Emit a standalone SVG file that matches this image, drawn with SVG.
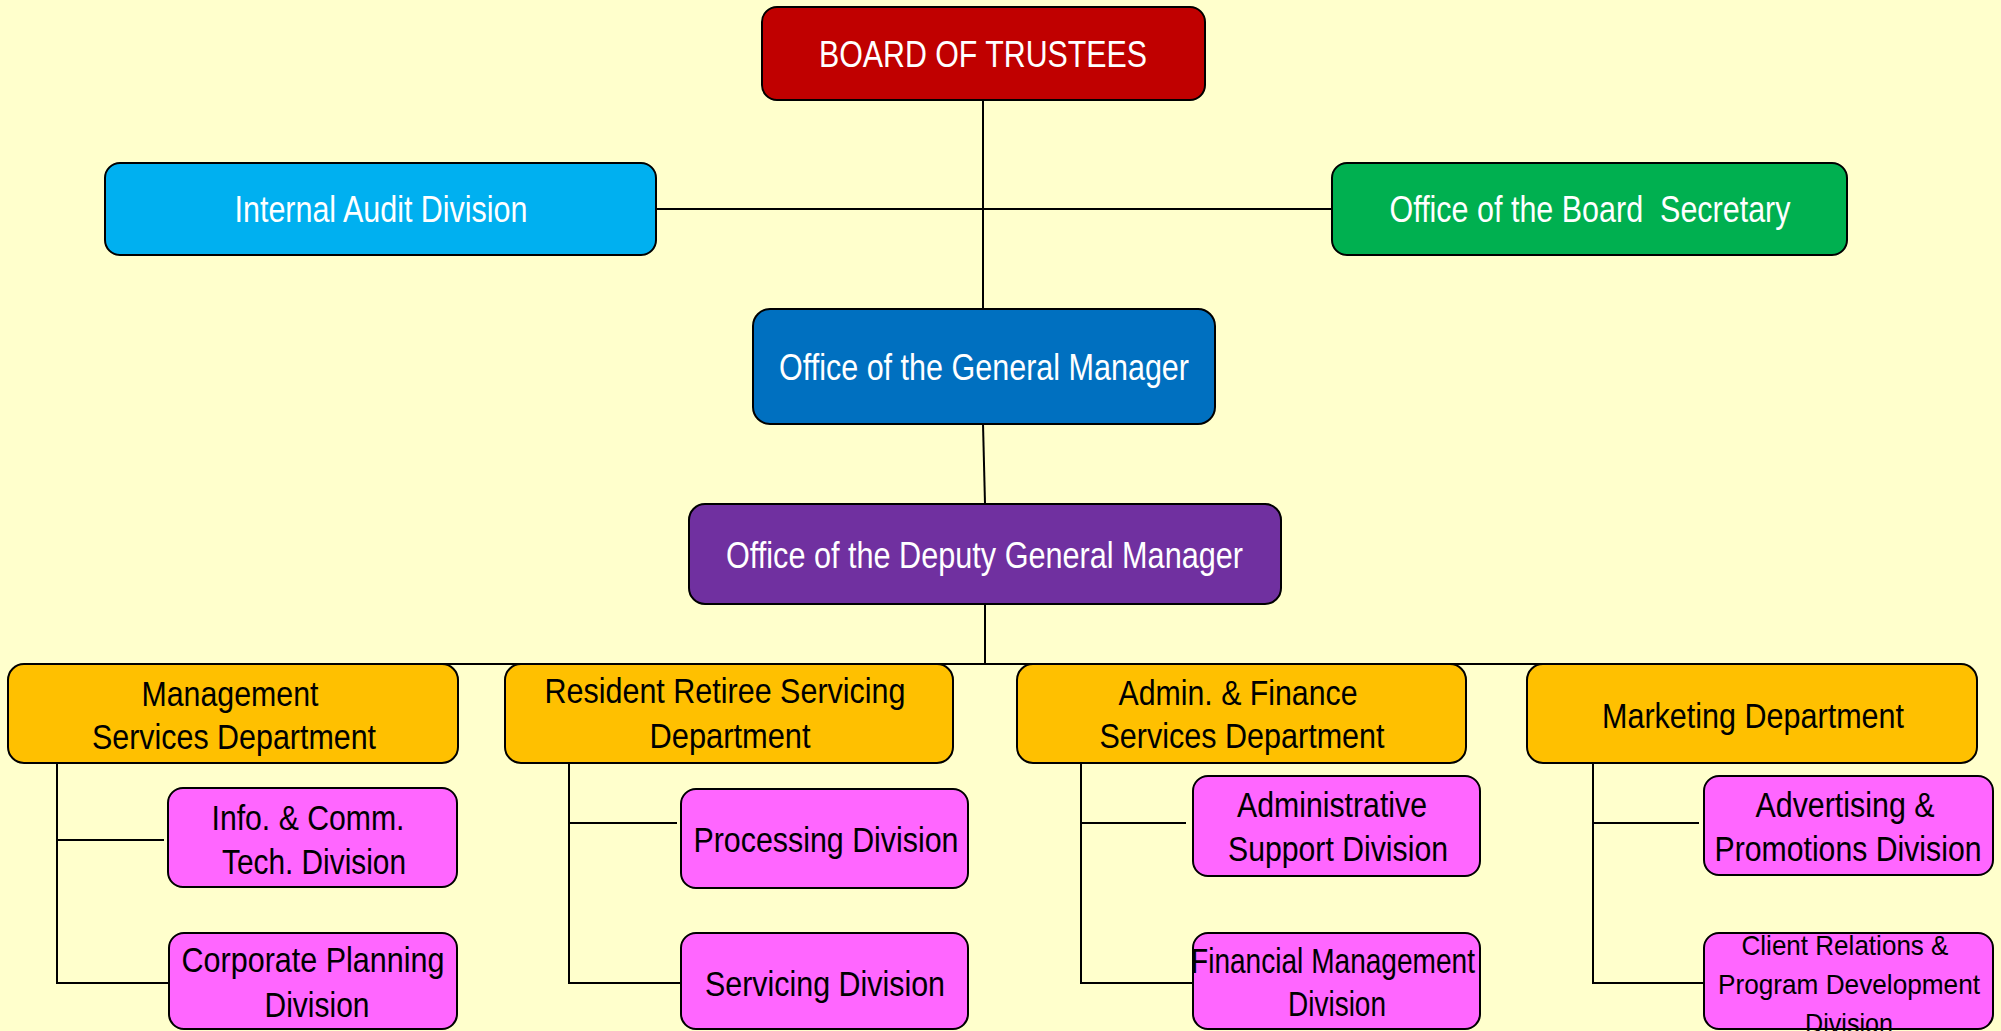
<svg xmlns="http://www.w3.org/2000/svg" width="2001" height="1031" viewBox="0 0 2001 1031">
<style>
.box{stroke:#000;stroke-width:2}
.conn line{stroke:#000;stroke-width:2;fill:none}
text{font-family:"Liberation Sans",Arial,sans-serif;text-anchor:middle}
.w{fill:#fff;font-size:36px}
.d{fill:#000;font-size:35px}
.s{fill:#000;font-size:28px}
</style>
<rect x="0" y="0" width="2001" height="1031" fill="#FFFFCC"/>
<g id="connectors" class="conn">
<line x1="983" y1="100" x2="983" y2="309"/>
<line x1="656" y1="209" x2="1332" y2="209"/>
<line x1="983" y1="424" x2="985" y2="504"/>
<line x1="985" y1="604" x2="985" y2="664"/>
<line x1="233" y1="664" x2="1752" y2="664"/>
<line x1="57" y1="760" x2="57" y2="984"/>
<line x1="57" y1="840" x2="164" y2="840"/>
<line x1="57" y1="983" x2="169" y2="983"/>
<line x1="569" y1="760" x2="569" y2="984"/>
<line x1="569" y1="823" x2="677" y2="823"/>
<line x1="569" y1="983" x2="681" y2="983"/>
<line x1="1081" y1="760" x2="1081" y2="984"/>
<line x1="1081" y1="823" x2="1186" y2="823"/>
<line x1="1081" y1="983" x2="1193" y2="983"/>
<line x1="1593" y1="760" x2="1593" y2="984"/>
<line x1="1593" y1="823" x2="1699" y2="823"/>
<line x1="1593" y1="983" x2="1704" y2="983"/>
</g>
<g id="board">
<rect class="box" x="762" y="7" width="443" height="93" rx="15" fill="#C00000"/>
<text class="w" x="983" y="67" textLength="328" lengthAdjust="spacingAndGlyphs">BOARD OF TRUSTEES</text>
</g>
<g id="internal-audit">
<rect class="box" x="105" y="163" width="551" height="92" rx="15" fill="#00B0F0"/>
<text class="w" x="381" y="222" textLength="293" lengthAdjust="spacingAndGlyphs">Internal Audit Division</text>
</g>
<g id="board-secretary">
<rect class="box" x="1332" y="163" width="515" height="92" rx="15" fill="#00B050"/>
<text class="w" x="1590" y="222" textLength="401" lengthAdjust="spacingAndGlyphs" xml:space="preserve">Office of the Board  Secretary</text>
</g>
<g id="general-manager">
<rect class="box" x="753" y="309" width="462" height="115" rx="17" fill="#0070C0"/>
<text class="w" x="984" y="380" textLength="410" lengthAdjust="spacingAndGlyphs">Office of the General Manager</text>
</g>
<g id="deputy-general-manager">
<rect class="box" x="689" y="504" width="592" height="100" rx="16" fill="#7030A0"/>
<text class="w" x="984.5" y="568" textLength="517" lengthAdjust="spacingAndGlyphs">Office of the Deputy General Manager</text>
</g>
<g id="management-services">
<rect class="box" x="8" y="664" width="450" height="99" rx="16" fill="#FFC000"/>
<text class="d" x="230" y="706" textLength="177" lengthAdjust="spacingAndGlyphs">Management</text>
<text class="d" x="234" y="749" textLength="284" lengthAdjust="spacingAndGlyphs">Services Department</text>
</g>
<g id="resident-retiree">
<rect class="box" x="505" y="664" width="448" height="99" rx="16" fill="#FFC000"/>
<text class="d" x="725" y="703" textLength="361" lengthAdjust="spacingAndGlyphs">Resident Retiree Servicing</text>
<text class="d" x="730" y="748" textLength="161" lengthAdjust="spacingAndGlyphs">Department</text>
</g>
<g id="admin-finance">
<rect class="box" x="1017" y="664" width="449" height="99" rx="16" fill="#FFC000"/>
<text class="d" x="1238" y="705" textLength="239" lengthAdjust="spacingAndGlyphs">Admin. &amp; Finance</text>
<text class="d" x="1242" y="748" textLength="285" lengthAdjust="spacingAndGlyphs">Services Department</text>
</g>
<g id="marketing">
<rect class="box" x="1527" y="664" width="450" height="99" rx="16" fill="#FFC000"/>
<text class="d" x="1753" y="728" textLength="302" lengthAdjust="spacingAndGlyphs">Marketing Department</text>
</g>
<g id="ict">
<rect class="box" x="168" y="788" width="289" height="99" rx="15" fill="#FF66FF"/>
<text class="d" x="308" y="830" textLength="193" lengthAdjust="spacingAndGlyphs">Info. &amp; Comm.</text>
<text class="d" x="314" y="874" textLength="184" lengthAdjust="spacingAndGlyphs">Tech. Division</text>
</g>
<g id="corporate-planning">
<rect class="box" x="169" y="933" width="288" height="96" rx="15" fill="#FF66FF"/>
<text class="d" x="313" y="972" textLength="263" lengthAdjust="spacingAndGlyphs">Corporate Planning</text>
<text class="d" x="317" y="1017" textLength="105" lengthAdjust="spacingAndGlyphs">Division</text>
</g>
<g id="processing">
<rect class="box" x="681" y="789" width="287" height="99" rx="15" fill="#FF66FF"/>
<text class="d" x="826" y="852" textLength="265" lengthAdjust="spacingAndGlyphs">Processing Division</text>
</g>
<g id="servicing">
<rect class="box" x="681" y="933" width="287" height="96" rx="15" fill="#FF66FF"/>
<text class="d" x="825" y="996" textLength="240" lengthAdjust="spacingAndGlyphs">Servicing Division</text>
</g>
<g id="administrative-support">
<rect class="box" x="1193" y="776" width="287" height="100" rx="15" fill="#FF66FF"/>
<text class="d" x="1332" y="817" textLength="190" lengthAdjust="spacingAndGlyphs">Administrative</text>
<text class="d" x="1338" y="861" textLength="220" lengthAdjust="spacingAndGlyphs">Support Division</text>
</g>
<g id="financial-management">
<rect class="box" x="1193" y="933" width="287" height="96" rx="15" fill="#FF66FF"/>
<text class="d" x="1333" y="973" textLength="284" lengthAdjust="spacingAndGlyphs">Financial Management</text>
<text class="d" x="1337" y="1016" textLength="98" lengthAdjust="spacingAndGlyphs">Division</text>
</g>
<g id="advertising">
<rect class="box" x="1704" y="776" width="289" height="99" rx="15" fill="#FF66FF"/>
<text class="d" x="1845" y="817" textLength="179" lengthAdjust="spacingAndGlyphs">Advertising &amp;</text>
<text class="d" x="1848" y="861" textLength="267" lengthAdjust="spacingAndGlyphs">Promotions Division</text>
</g>
<g id="client-relations">
<rect class="box" x="1704" y="933" width="289" height="96" rx="15" fill="#FF66FF"/>
<text class="s" x="1845" y="955" textLength="207" lengthAdjust="spacingAndGlyphs">Client Relations &amp;</text>
<text class="s" x="1849" y="994" textLength="262" lengthAdjust="spacingAndGlyphs">Program Development</text>
<text class="s" x="1849" y="1033" textLength="88" lengthAdjust="spacingAndGlyphs">Division</text>
</g>
</svg>
